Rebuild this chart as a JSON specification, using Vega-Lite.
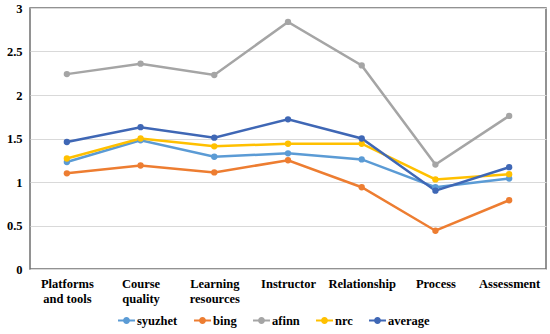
{
  "$schema": "https://vega.github.io/schema/vega-lite/v6.json",
  "width": 516,
  "height": 261,
  "autosize": "none",
  "padding": {"left": 30, "top": 8, "right": 4, "bottom": 65},
  "background": "white",
  "config": {
    "font": "Liberation Serif",
    "view": {"stroke": "#6f6f6f", "strokeWidth": 1.5}
  },
  "data": {
    "values": [
      {"category": "Platforms and tools", "series": "syuzhet", "value": 1.23},
      {"category": "Course quality", "series": "syuzhet", "value": 1.48},
      {"category": "Learning resources", "series": "syuzhet", "value": 1.29},
      {"category": "Instructor", "series": "syuzhet", "value": 1.33},
      {"category": "Relationship", "series": "syuzhet", "value": 1.26},
      {"category": "Process", "series": "syuzhet", "value": 0.94},
      {"category": "Assessment", "series": "syuzhet", "value": 1.04},
      {"category": "Platforms and tools", "series": "bing", "value": 1.10},
      {"category": "Course quality", "series": "bing", "value": 1.19},
      {"category": "Learning resources", "series": "bing", "value": 1.11},
      {"category": "Instructor", "series": "bing", "value": 1.25},
      {"category": "Relationship", "series": "bing", "value": 0.94},
      {"category": "Process", "series": "bing", "value": 0.44},
      {"category": "Assessment", "series": "bing", "value": 0.79},
      {"category": "Platforms and tools", "series": "afinn", "value": 2.24},
      {"category": "Course quality", "series": "afinn", "value": 2.36},
      {"category": "Learning resources", "series": "afinn", "value": 2.23},
      {"category": "Instructor", "series": "afinn", "value": 2.84},
      {"category": "Relationship", "series": "afinn", "value": 2.34},
      {"category": "Process", "series": "afinn", "value": 1.20},
      {"category": "Assessment", "series": "afinn", "value": 1.76},
      {"category": "Platforms and tools", "series": "nrc", "value": 1.27},
      {"category": "Course quality", "series": "nrc", "value": 1.50},
      {"category": "Learning resources", "series": "nrc", "value": 1.41},
      {"category": "Instructor", "series": "nrc", "value": 1.44},
      {"category": "Relationship", "series": "nrc", "value": 1.44},
      {"category": "Process", "series": "nrc", "value": 1.03},
      {"category": "Assessment", "series": "nrc", "value": 1.09},
      {"category": "Platforms and tools", "series": "average", "value": 1.46},
      {"category": "Course quality", "series": "average", "value": 1.63},
      {"category": "Learning resources", "series": "average", "value": 1.51},
      {"category": "Instructor", "series": "average", "value": 1.72},
      {"category": "Relationship", "series": "average", "value": 1.50},
      {"category": "Process", "series": "average", "value": 0.90},
      {"category": "Assessment", "series": "average", "value": 1.17}
    ]
  },
  "mark": {"type": "line", "strokeWidth": 2.5, "point": {"filled": true, "size": 40}},
  "encoding": {
    "x": {
      "field": "category",
      "type": "nominal",
      "sort": null,
      "scale": {"type": "point", "padding": 0.5},
      "axis": {
        "title": null,
        "labelAngle": 0,
        "domain": false,
        "ticks": false,
        "labelPadding": 8,
        "labelFont": "Liberation Serif",
        "labelFontSize": 12.5,
        "labelFontWeight": "bold",
        "labelColor": "#000000",
        "labelLineHeight": 15,
        "labelExpr": "indexof(datum.label, ' ') > 0 ? [substring(datum.label, 0, indexof(datum.label, ' ')), substring(datum.label, indexof(datum.label, ' ') + 1)] : datum.label"
      }
    },
    "y": {
      "field": "value",
      "type": "quantitative",
      "scale": {"domain": [0, 3], "nice": false},
      "axis": {
        "title": null,
        "values": [0, 0.5, 1, 1.5, 2, 2.5, 3],
        "format": "~g",
        "domain": false,
        "ticks": false,
        "gridColor": "#d9d9d9",
        "gridWidth": 1,
        "labelPadding": 8,
        "labelFont": "Liberation Serif",
        "labelFontSize": 12.5,
        "labelFontWeight": "bold",
        "labelColor": "#000000"
      }
    },
    "color": {
      "field": "series",
      "type": "nominal",
      "sort": ["syuzhet", "bing", "afinn", "nrc", "average"],
      "scale": {
        "domain": ["syuzhet", "bing", "afinn", "nrc", "average"],
        "range": ["#5B9BD5", "#ED7D31", "#A5A5A5", "#FFC000", "#3F67B5"]
      },
      "legend": {
        "title": null,
        "orient": "none",
        "legendX": 88,
        "legendY": 304,
        "direction": "horizontal",
        "labelFont": "Liberation Serif",
        "labelFontSize": 12.5,
        "labelFontWeight": "bold",
        "labelColor": "#000000",
        "symbolType": "M-1.2,0H1.2M0.35,0A0.35,0.35 0 1,1 -0.35,0A0.35,0.35 0 1,1 0.35,0",
        "symbolSize": 200,
        "symbolStrokeWidth": 2,
        "columnPadding": 12,
        "labelOffset": 2
      }
    }
  }
}
